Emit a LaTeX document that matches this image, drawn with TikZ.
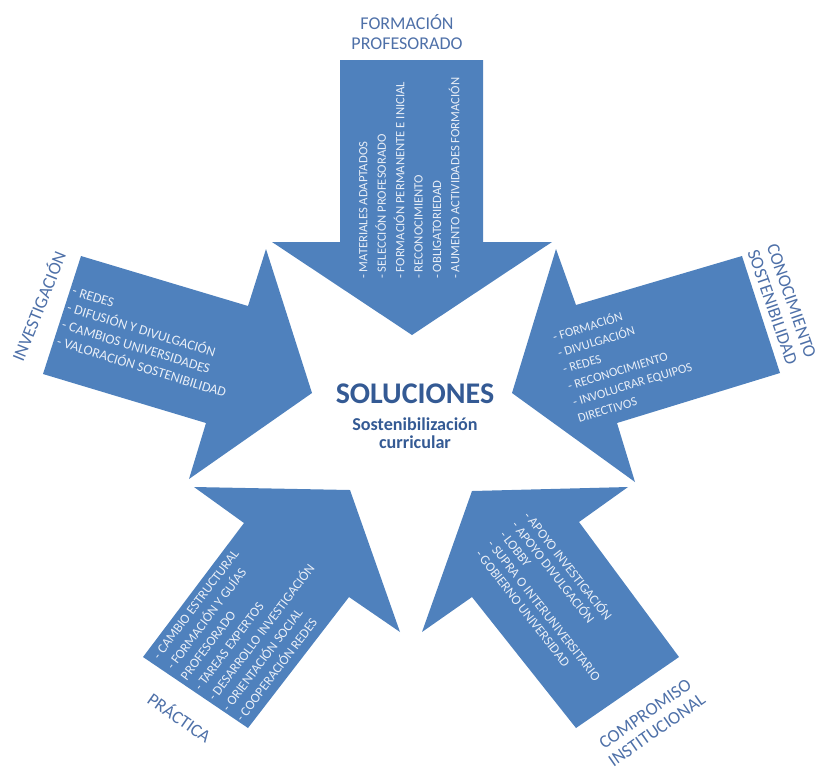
\documentclass[tikz,border=0pt]{standalone}
\usepackage{fontspec}
\setmainfont{Carlito}
\usetikzlibrary{calc}
\definecolor{arrowblue}{HTML}{4F81BD}
\definecolor{titleblue}{HTML}{4E70A8}
\definecolor{darkblue}{HTML}{345A94}
\definecolor{itemwhite}{HTML}{E8EEF7}
\tikzset{
  arrowshape/.style={fill=arrowblue, draw=none},
  itemtext/.style={color=itemwhite, inner sep=0pt, align=left, font=\fontsize{10}{13}\selectfont},
  titletext/.style={color=titleblue, inner sep=0pt, align=center, font=\fontsize{13.5}{15}\selectfont},
  centertext/.style={anchor=base, inner sep=0pt, color=darkblue},
}

\begin{document}
\begin{tikzpicture}[x=0.75pt, y=-0.75pt]
			%%%%% START %%%%%
			\useasboundingbox (0,0) rectangle (817,769);
			
			% top arrow
			\draw[arrowshape] (340,60) -- (483,60) -- (483,242) -- (552,242) -- (412,335) -- (272,242) -- (340,242) -- cycle;
			% left arrow
			\draw[arrowshape] (81,256) -- (248,306) -- (266,249) -- (312,393) -- (189,479) -- (206,423) -- (43,374) -- cycle;
			% right arrow
			\draw[arrowshape] (742,256) -- (576,305) -- (556,249) -- (512,393) -- (635,482) -- (617,423) -- (780,373) -- cycle;
			% bottom left arrow
			\draw[arrowshape] (143,657) -- (244,523) -- (194,487) -- (350,490) -- (400,632) -- (349,597) -- (248,728) -- cycle;
			% bottom right arrow
			\draw[arrowshape] (679,657) -- (579,522) -- (628,487) -- (472,491) -- (422,632) -- (472,597) -- (576,728) -- cycle;
			
			\node[titletext] (formacion) at (407,32) {FORMACIÓN\\PROFESORADO};
			\node[titletext, rotate=68] (investigacion) at (38,306) {INVESTIGACIÓN};
			\node[titletext, rotate=-71] (conocimiento) at (782,304) {CONOCIMIENTO\\SOSTENIBILIDAD};
			\node[titletext, rotate=-35] (practica) at (180,717) {PRÁCTICA};
			\node[titletext, rotate=35] (compromiso) at (651,722) {COMPROMISO\\INSTITUCIONAL};
			
			\node[itemtext, rotate=90, anchor=north west, font=\fontsize{9.5}{13.8}\selectfont] (formacionitems) at (359,279) {- MATERIALES ADAPTADOS\\- SELECCIÓN PROFESORADO\\- FORMACIÓN PERMANENTE E INICIAL\\- RECONOCIMIENTO\\- OBLIGATORIEDAD\\- AUMENTO ACTIVIDADES FORMACIÓN};
			\node[itemtext, rotate=-17, anchor=north west, font=\fontsize{10.3}{13.3}\selectfont] (investigacionitems) at (74,286) {- REDES\\- DIFUSIÓN Y DIVULGACIÓN\\- CAMBIOS UNIVERSIDADES\\- VALORACIÓN SOSTENIBILIDAD};
			\node[itemtext, rotate=17, anchor=north west, font=\fontsize{9.5}{12.8}\selectfont] (conocimientoitems) at (551,331) {- FORMACIÓN\\- DIVULGACIÓN\\- REDES\\- RECONOCIMIENTO\\- INVOLUCRAR EQUIPOS\\DIRECTIVOS};
			\node[itemtext, rotate=53, anchor=north west] (practicaitems) at (152,655) {- CAMBIO ESTRUCTURAL\\- FORMACIÓN Y GUÍAS\\PROFESORADO\\- TAREAS EXPERTOS\\- DESARROLLO INVESTIGACIÓN\\- ORIENTACIÓN SOCIAL\\- COOPERACIÓN REDES};
			\node[itemtext, rotate=-52, anchor=north west, font=\fontsize{10}{11.5}\selectfont] (compromisoitems) at (532,509) {- APOYO INVESTIGACIÓN\\- APOYO DIVULGACIÓN\\- LOBBY\\- SUPRA O INTERUNIVERSITARIO\\- GOBIERNO UNIVERSIDAD};
			
			\node[centertext, font=\fontsize{22.5}{24}\selectfont\bfseries] (soluciones) at (415,403) {SOLUCIONES};
			\node[centertext, font=\fontsize{13.6}{14}\selectfont\bfseries] (sostenibilizacion) at (415,430) {Sostenibilización};
			\node[centertext, font=\fontsize{13.6}{14}\selectfont\bfseries] (curricular) at (415,448) {curricular};
			
			%%%%% END %%%%%
\end{tikzpicture}
\end{document}
